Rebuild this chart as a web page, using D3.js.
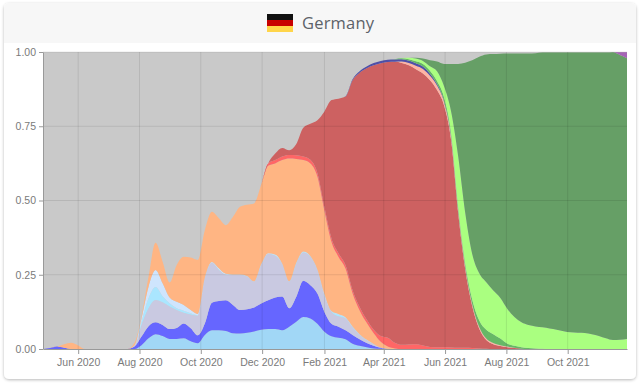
<!DOCTYPE html>
<html>
<head>
<meta charset="utf-8">
<script src="https://cdn.jsdelivr.net/npm/d3@7"></script>
<style>
  html, body { margin: 0; padding: 0; background: #fff; }
  svg { display: block; font-family: "Open Sans", sans-serif; }
  .tick text { fill: #7a7a7a; font-size: 10.5px; }
  .tick line, .domain { stroke: #999; }
</style>
</head>
<body>
<div id="chart"></div>
<script>
const lead = n => new Array(n).fill(0);

// one value per week from the first date, shares of sequenced samples
const firstWeek = new Date(2020, 3, 27);
const lastWeek = new Date(2021, 10, 29);
const weeks = d3.timeDay.range(firstWeek, d3.timeDay.offset(lastWeek, 1), 7);

const lightBlue = [...lead(14), .013,.036,.05,.044,.034,.034,.036,.026,.019,.047,.063,.063,.061,.053,.052,.055,.059,.065,.067,.067,.063,.075,.092,.108,.103,.085,.058,.043,.038,.033,.018,.011,.006,.002,.001];
const blue = [0,.003,.008,.004,...lead(9), .008,.029,.041,.04,.037,.033,.037,.05,.044,.027,.039,.093,.099,.103,.095,.079,.079,.081,.088,.097,.106,.114,.062,.084,.122,.112,.102,.067,.042,.037,.03,.029,.022,.014,.009,.003];
const lavender = [...lead(13), .001,.039,.06,.075,.076,.076,.06,.036,.046,.066,.152,.134,.104,.086,.101,.118,.11,.087,.13,.156,.141,.109,.09,.112,.095,.096,.079,.055,.04,.035,.04,.026,.015,.01,.005,.001,.001];
const cyan = [...lead(13), .001,.011,.034,.044,.021,.011,.006,.007,.004,.001,.001,.001,.002,.001,.001,.001,.001,.001,.001,.001,.002,.001,.001,.002,.002,.001,.001,.002,.002,.006,.002,.002,.001,.001,.001];
const paleBlue = [...lead(13), .002,.011,.039,.057,.043,.019,.022,.019,.011,.005,.002,.002,.004,.002,.001,.001,.001,0,.001,.001,.002,.001,0,.001,.001,.001,.001,.003,.001,.002,.002,.001,.001,.001];
const orange = [0,0,0,.012,.021,.012,...lead(7), .008,.006,.033,.092,.073,.051,.124,.163,.177,.182,.159,.169,.168,.164,.194,.228,.24,.262,.267,.295,.307,.348,.413,.349,.308,.312,.312,.28,.232,.192,.163,.111,.08,.056,.036,.019,.007,.002];
const red = [...lead(31), .001,.008,.011,.012,.012,.012,.012,.012,.012,.012,.012,.012,.012,.011,.011,.011,.012,.02,.03,.019,.014,.015,.016,.012,.007,.006,.006,.005,.004,.004,.003,.002,.001];
const darkRed = [...lead(33), .022,.029,.016,.038,.097,.121,.178,.323,.466,.521,.568,.707,.789,.846,.89,.918,.928,.946,.949,.94,.926,.916,.898,.866,.814,.699,.456,.266,.142,.066,.029,.016,.01,.006,.003,.001];
const pink = [...lead(51), .005,.008,.012,.015,.015,.015,.012,.01,.008,.007,.006,.006,.005,.004,.003,.002,.001];
const darkBlue = [...lead(43), .001,.003,.005,.006,.008,.008,.008,.008,.008,.008,.008,.008,.007,.005,.003,.001];
const midGreen = [...lead(50), .001,.003,.005,.007,.009,.01,.01,.012,.012,.012,.012,.016,.022,.03,.03,.022,.01,.007,.005,.003,.002,.001];
const lime = [...lead(51), .001,.005,.009,.01,.015,.033,.038,.073,.17,.171,.153,.159,.16,.147,.137,.117,.097,.084,.078,.074,.072,.069,.065,.06,.056,.055,.054,.05,.044,.036,.03,.031,.034];
const darkGreen = [...lead(53), .003,.008,.02,.033,.075,.16,.31,.504,.652,.729,.767,.796,.822,.86,.887,.905,.914,.92,.925,.929,.933,.938,.942,.943,.944,.948,.954,.962,.969,.959,.945];
const purple = [...lead(82), .009,.02];

const seriesNames = ["lightBlue", "blue", "lavender", "cyan", "paleBlue", "orange", "red", "darkRed", "pink", "darkBlue", "midGreen", "lime", "darkGreen", "purple"];
const seriesValues = [lightBlue, blue, lavender, cyan, paleBlue, orange, red, darkRed, pink, darkBlue, midGreen, lime, darkGreen, purple];
const seriesColors = ["#a1d7f6", "#6666ff", "#c9c9e1", "#aae6ff", "#cfe5fd", "#ffb583", "#ff6666", "#cd6161", "#ffb3a3", "#4f4fa8", "#66b866", "#aaff80", "#669f66", "#a565b5"];

const yTicks = [0, 0.25, 0.5, 0.75, 1];
const xTicks = [new Date(2020, 5, 1), new Date(2020, 7, 1), new Date(2020, 9, 1), new Date(2020, 11, 1), new Date(2021, 1, 1), new Date(2021, 3, 1), new Date(2021, 5, 1), new Date(2021, 7, 1), new Date(2021, 9, 1)];

const width = 640, height = 385;
const margin = { top: 52, right: 13, bottom: 36, left: 43 };

const svg = d3.select("#chart").append("svg")
    .attr("width", width)
    .attr("height", height);

// card with soft shadow
const defs = svg.append("defs");
const shadow = defs.append("filter").attr("id", "cardShadow")
    .attr("x", "-5%").attr("y", "-5%").attr("width", "110%").attr("height", "110%");
shadow.append("feDropShadow")
    .attr("dx", 0).attr("dy", 1).attr("stdDeviation", 1.6)
    .attr("flood-color", "#000").attr("flood-opacity", 0.28);

svg.append("rect")
    .attr("x", 4).attr("y", 3).attr("width", 632).attr("height", 376).attr("rx", 5)
    .attr("fill", "#fff")
    .attr("filter", "url(#cardShadow)");

svg.append("path")
    .attr("d", "M4 43V8a5 5 0 0 1 5-5H631a5 5 0 0 1 5 5V43Z")
    .attr("fill", "#f7f7f7");

// flag
const flag = svg.append("g").attr("transform", "translate(267,14)");
["#111", "#c80000", "#ffd54a"].forEach((c, i) => {
    flag.append("rect")
        .attr("x", 0).attr("y", i * 6).attr("width", 26).attr("height", 6)
        .attr("fill", c);
});

svg.append("text")
    .attr("x", 302).attr("y", 29)
    .attr("fill", "#5c6268")
    .style("font-size", "16.5px")
    .style("letter-spacing", "0.2px")
    .text("Germany");

const x = d3.scaleTime()
    .domain([firstWeek, lastWeek])
    .range([margin.left, width - margin.right]);

const y = d3.scaleLinear()
    .domain([0, 1])
    .range([height - margin.bottom, margin.top]);

svg.append("rect")
    .attr("x", x.range()[0]).attr("y", y(1))
    .attr("width", x.range()[1] - x.range()[0])
    .attr("height", y(0) - y(1))
    .attr("fill", "#c9c9c9");

const rows = weeks.map((d, i) => {
    const row = { date: d };
    seriesNames.forEach((name, s) => { row[name] = seriesValues[s][i] || 0; });
    return row;
});

const stacked = d3.stack().keys(seriesNames)(rows);

const area = d3.area()
    .x(d => x(d.data.date))
    .y0(d => y(d[0]))
    .y1(d => y(d[1]))
    .curve(d3.curveMonotoneX);

svg.append("g").selectAll("path")
    .data(stacked)
    .enter()
    .append("path")
    .attr("fill", (d, i) => seriesColors[i])
    .attr("d", area);

// grid sits over the areas
const grid = svg.append("g")
    .attr("stroke", "#000")
    .attr("stroke-opacity", 0.09);

grid.selectAll(".gx").data(xTicks).enter().append("line")
    .attr("x1", d => x(d)).attr("x2", d => x(d))
    .attr("y1", y(1)).attr("y2", y(0));

grid.selectAll(".gy").data(yTicks.slice(1)).enter().append("line")
    .attr("x1", x.range()[0]).attr("x2", x.range()[1])
    .attr("y1", d => y(d)).attr("y2", d => y(d));

const xAxis = d3.axisBottom(x)
    .tickValues(xTicks)
    .tickFormat(d3.timeFormat("%b %Y"))
    .tickSize(5)
    .tickPadding(5)
    .tickSizeOuter(0);

svg.append("g")
    .attr("transform", `translate(0,${y(0)})`)
    .call(xAxis);

const yAxis = d3.axisLeft(y)
    .tickValues(yTicks)
    .tickFormat(d3.format(".2f"))
    .tickSize(4)
    .tickPadding(3)
    .tickSizeOuter(0);

svg.append("g")
    .attr("transform", `translate(${margin.left},0)`)
    .call(yAxis);
</script>
</body>
</html>
